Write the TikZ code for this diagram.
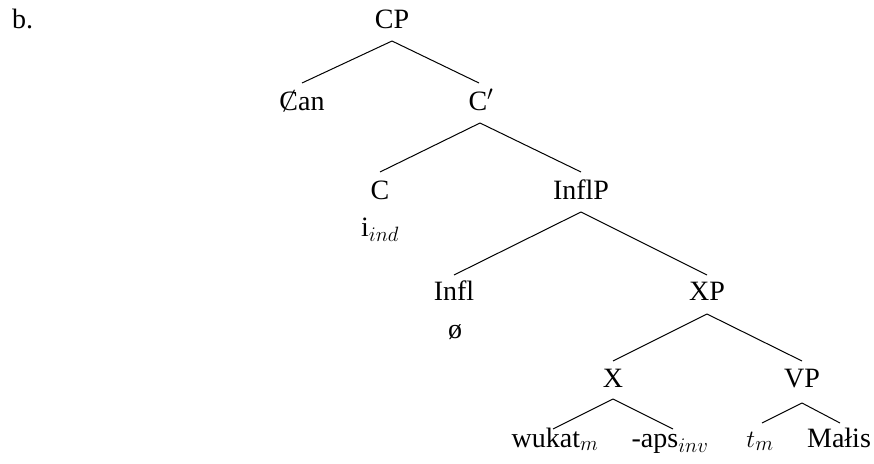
\documentclass[tikz,border=0pt]{standalone}
\usepackage{fontspec}
\setmainfont{Liberation Serif}
\begin{document}
\begin{tikzpicture}[x=1pt,y=-1pt,
  lbl/.style={anchor=base,inner sep=0pt,font=\fontsize{28}{34}\selectfont},
  branch/.style={line width=1pt,black}]
\useasboundingbox (0,0) rectangle (874,463);

% example label
\node[lbl,anchor=base west] (ex) at (12,28) {b.};

% tree nodes
\node[lbl] (CP)    at (392,28)  {CP};
\node[lbl] (Can)   at (302,110) {Ȼan};
\node[lbl] (Cbar)  at (481,110) {C$'$};
\node[lbl] (C)     at (380,199) {C};
\node[lbl] (Cind)  at (380,236) {i$_{ind}$};
\node[lbl] (InflP) at (581,199) {InflP};
\node[lbl] (Infl)  at (454,300) {Infl};
\node[lbl] (null)  at (455,338) {ø};
\node[lbl] (XP)    at (707,300) {XP};
\node[lbl] (X)     at (613,387) {X};
\node[lbl] (VP)    at (802,387) {VP};
\node[lbl] (wukat) at (555,447) {wukat$_m$};
\node[lbl] (aps)   at (670,447) {-aps$_{inv}$};
\node[lbl] (trace) at (760,447) {$t_m$};
\node[lbl] (Malis) at (839,447) {Małis};

% branches
\draw[branch] ([yshift=-13pt]CP.base) -- ([yshift=27pt]Can.base);
\draw[branch] ([yshift=-13pt]CP.base) -- ([yshift=27pt,xshift=-2pt]Cbar.base);
\draw[branch] ([yshift=-13pt,xshift=-1pt]Cbar.base) -- ([yshift=27pt]C.base);
\draw[branch] ([yshift=-13pt,xshift=-1pt]Cbar.base) -- ([yshift=27pt]InflP.base);
\draw[branch] ([yshift=-13pt]InflP.base) -- ([yshift=25pt]Infl.base);
\draw[branch] ([yshift=-13pt]InflP.base) -- ([yshift=25pt]XP.base);
\draw[branch] ([yshift=-14pt]XP.base) -- ([yshift=26pt]X.base);
\draw[branch] ([yshift=-14pt]XP.base) -- ([yshift=26pt]VP.base);
\draw[branch] ([yshift=-12pt]X.base) -- ([yshift=18pt,xshift=-2pt]wukat.base);
\draw[branch] ([yshift=-12pt]X.base) -- ([yshift=18pt,xshift=3pt]aps.base);
\draw[branch] ([yshift=-16pt]VP.base) -- ([yshift=24pt,xshift=2pt]trace.base);
\draw[branch] ([yshift=-16pt]VP.base) -- ([yshift=24pt,xshift=1pt]Malis.base);
\end{tikzpicture}
\end{document}
